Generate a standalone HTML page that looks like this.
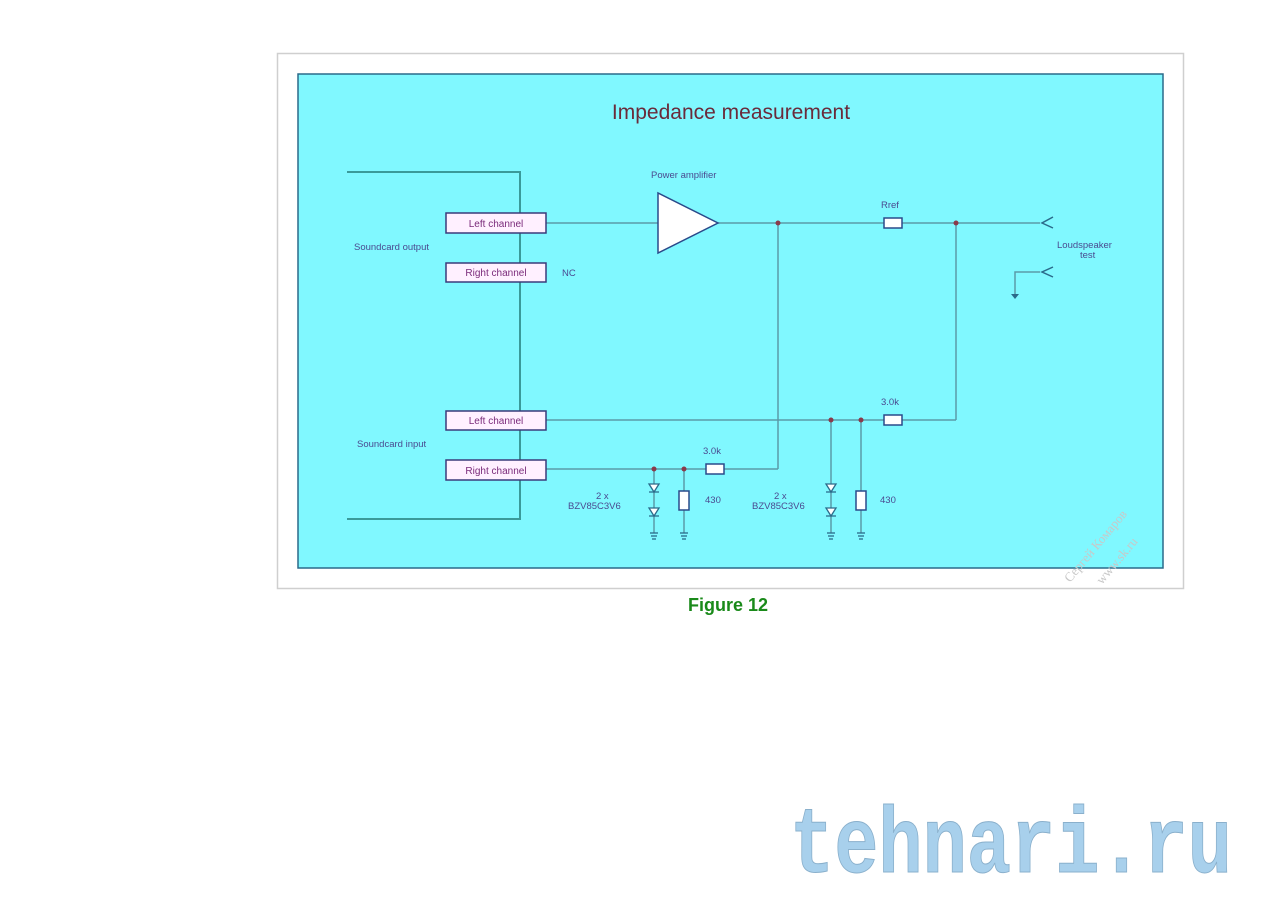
<!DOCTYPE html>
<html><head><meta charset="utf-8"><style>
html,body{margin:0;padding:0;background:#fff;}
body{width:1280px;height:905px;overflow:hidden;}
</style></head><body>
<svg width="1280" height="905" viewBox="0 0 1280 905" xmlns="http://www.w3.org/2000/svg" font-family="Liberation Sans, sans-serif">
<rect x="277.5" y="53.5" width="906" height="535" fill="#fff" stroke="#cfcfcf" stroke-width="1.5"/>
<rect x="298" y="74" width="865" height="494" fill="#80f8ff" stroke="#2a6a8a" stroke-width="1.5"/>
<text x="731" y="119" text-anchor="middle" font-size="21" fill="#6a2a3a">Impedance measurement</text>
<g stroke="#3a9a9a" stroke-width="2" fill="none">
<polyline points="347,172 520,172 520,519 347,519"/>
</g>
<g stroke="#5a9aa8" stroke-width="1.5" fill="none">
<line x1="546" y1="223" x2="658" y2="223"/>
<line x1="718" y1="223" x2="1040" y2="223"/>
<line x1="778" y1="223" x2="778" y2="469"/>
<line x1="546" y1="469" x2="778" y2="469"/>
<line x1="956" y1="223" x2="956" y2="420"/>
<line x1="546" y1="420" x2="956" y2="420"/>
<polyline points="1040,272 1015,272 1015,296"/>
<line x1="654" y1="469" x2="654" y2="533"/>
<line x1="684" y1="469" x2="684" y2="533"/>
<line x1="831" y1="420" x2="831" y2="533"/>
<line x1="861" y1="420" x2="861" y2="533"/>
</g>
<g stroke="#2a6a8a" stroke-width="1.5" fill="none">
<polyline points="1053,217 1042,223 1053,228"/>
<polyline points="1053,267 1042,272 1053,277"/>
</g>
<path d="M1011,294 h8 l-4,5z" fill="#2a6a8a"/>
<g fill="#8a3a4a">
<circle cx="778" cy="223" r="2.5"/><circle cx="956" cy="223" r="2.5"/>
<circle cx="654" cy="469" r="2.5"/><circle cx="684" cy="469" r="2.5"/>
<circle cx="831" cy="420" r="2.5"/><circle cx="861" cy="420" r="2.5"/>
</g>
<g fill="#fff" stroke="#2a4a8a" stroke-width="1.5">
<polygon points="658,193 658,253 718,223"/>
<rect x="884" y="218" width="18" height="10"/>
<rect x="884" y="415" width="18" height="10"/>
<rect x="706" y="464" width="18" height="10"/>
<rect x="679" y="491" width="10" height="19"/>
<rect x="856" y="491" width="10" height="19"/>
</g>
<g fill="#fff0ff" stroke="#3a3a7a" stroke-width="1.5">
<rect x="446" y="213" width="100" height="20"/>
<rect x="446" y="263" width="100" height="19"/>
<rect x="446" y="411" width="100" height="19"/>
<rect x="446" y="460" width="100" height="20"/>
</g>
<g font-size="10" fill="#7a2a7a" text-anchor="middle">
<text x="496" y="227">Left channel</text>
<text x="496" y="276">Right channel</text>
<text x="496" y="424">Left channel</text>
<text x="496" y="474">Right channel</text>
</g>
<g font-size="9.5" fill="#4a4a90">
<text x="354" y="250">Soundcard output</text>
<text x="357" y="447">Soundcard input</text>
<text x="562" y="276">NC</text>
<text x="651" y="178">Power amplifier</text>
<text x="881" y="208">Rref</text>
<text x="881" y="405">3.0k</text>
<text x="703" y="454">3.0k</text>
<text x="1057" y="248">Loudspeaker</text>
<text x="1080" y="258">test</text>
<text x="596" y="499">2 x</text>
<text x="568" y="509">BZV85C3V6</text>
<text x="774" y="499">2 x</text>
<text x="752" y="509">BZV85C3V6</text>
<text x="705" y="503">430</text>
<text x="880" y="503">430</text>
</g>
<g stroke="#2a6a8a" stroke-width="1.3" fill="#fff">
<path d="M649,484 h10 l-5,8z M649,492 h10"/>
<path d="M649,508 h10 l-5,8z M649,516 h10"/>
<path d="M826,484 h10 l-5,8z M826,492 h10"/>
<path d="M826,508 h10 l-5,8z M826,516 h10"/>
</g>
<g stroke="#2a6a8a" stroke-width="1.3">
<line x1="650" y1="533" x2="658" y2="533"/><line x1="651" y1="536" x2="657" y2="536"/><line x1="652" y1="539" x2="656" y2="539"/>
<line x1="680" y1="533" x2="688" y2="533"/><line x1="681" y1="536" x2="687" y2="536"/><line x1="682" y1="539" x2="686" y2="539"/>
<line x1="827" y1="533" x2="835" y2="533"/><line x1="828" y1="536" x2="834" y2="536"/><line x1="829" y1="539" x2="833" y2="539"/>
<line x1="857" y1="533" x2="865" y2="533"/><line x1="858" y1="536" x2="864" y2="536"/><line x1="859" y1="539" x2="863" y2="539"/>
</g>
<g fill="#c8c8c8" font-size="13" font-family="Liberation Serif, serif">
<text transform="translate(1070,583) rotate(-50)">Сергей Комаров</text>
<text transform="translate(1102,585) rotate(-50)">www.sk.ru</text>
</g>
<text x="728" y="611" text-anchor="middle" font-size="18" font-weight="bold" fill="#1a8a1a">Figure 12</text>
<text x="790" y="872" font-size="94" font-weight="bold" font-family="Liberation Mono, monospace" fill="#a8d0ec" stroke="#8ab0cc" stroke-width="1" textLength="442" lengthAdjust="spacingAndGlyphs">tehnari.ru</text>
</svg>
</body></html>
